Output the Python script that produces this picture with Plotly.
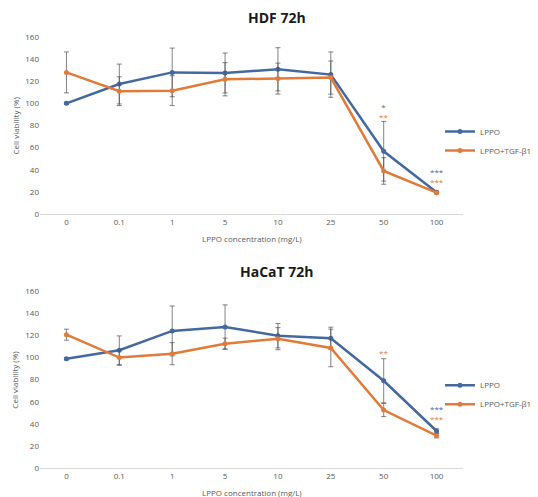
import plotly.graph_objects as go
from plotly.subplots import make_subplots

categories = ["0", "0.1", "1", "5", "10", "25", "50", "100"]

hdf_lppo = [100, 117.5, 128, 127.5, 130.8, 126, 56.7, 19.6]
hdf_lppo_err = [1, 18, 22, 18, 19.5, 20.5, 27, 1]
hdf_tgf = [128, 111, 111.5, 121.8, 122.4, 123.3, 38.9, 19.3]
hdf_tgf_err = [18.5, 13, 13.5, 15, 14, 15, 12, 1]

hacat_lppo = [99, 106.6, 124.1, 127.7, 119.8, 117.5, 79, 33.5]
hacat_lppo_err = [1, 13, 22.6, 20, 11, 10, 20, 2]
hacat_tgf = [120.7, 100, 103.5, 112.6, 117.1, 108.7, 52.5, 29.3]
hacat_tgf_err = [5, 7, 10, 5, 10, 17, 6, 2]

# significance marks: (panel, category, y, text, series)
sig_marks = [
    (1, "50", 95.6, "*", "LPPO"),
    (1, "50", 88.9, "**", "TGF"),
    (1, "100", 37, "***", "LPPO"),
    (1, "100", 30.5, "***", "TGF"),
    (2, "50", 105, "**", "TGF"),
    (2, "100", 52, "***", "LPPO"),
    (2, "100", 46, "***", "TGF"),
]

titles = ["HDF 72h", "HaCaT 72h"]
series_names = ["LPPO", "LPPO+TGF-β1"]
y_ticks = [0, 20, 40, 60, 80, 100, 120, 140, 160]

BLUE = "#44699F"
ORANGE = "#E07B39"
GREY = "#595959"
FONT = "Open Sans"

# page body has an 8px margin; work in screen pixels and convert
OFF = 8
W, H = 538 - OFF, 497 - OFF

def px(x):
    return (x - OFF) / W

def py(y):
    return 1 - (y - OFF) / H

fig = make_subplots(rows=2, cols=1)

panels = [
    (hdf_lppo, hdf_lppo_err, hdf_tgf, hdf_tgf_err, "legend"),
    (hacat_lppo, hacat_lppo_err, hacat_tgf, hacat_tgf_err, "legend2"),
]

for i, (l, le, t, te, lg) in enumerate(panels):
    row = i + 1
    for vals, errs, color, name in [(l, le, BLUE, series_names[0]), (t, te, ORANGE, series_names[1])]:
        fig.add_trace(go.Scatter(
            x=categories, y=vals, name=name, mode="lines+markers",
            line=dict(color=color, width=2.5),
            marker=dict(color=color, size=5),
            error_y=dict(type="data", array=errs, visible=True, color="#4d4d4d",
                         thickness=0.7, width=2.5),
            legend=lg,
        ), row=row, col=1)

# domains in screen pixels
x0, x1 = 40, 463
top_dom = (37, 214)
bot_dom = (291.3, 468)

def ydom(d):
    return [py(d[1]), py(d[0])]

axis_common = dict(showgrid=False, zeroline=False, automargin=False)
fig.update_xaxes(type="category", range=[-0.5, 7.5], domain=[px(x0), px(x1)],
                 showline=True, linecolor="#d9d9d9", linewidth=1, ticks="",
                 tickfont=dict(family=FONT, size=8, color=GREY), **axis_common)
fig.update_yaxes(range=[0, 160], tickvals=y_ticks, showline=False, ticks="",
                 tickfont=dict(family=FONT, size=8, color=GREY), **axis_common)
fig.update_layout(yaxis=dict(domain=ydom(top_dom)), yaxis2=dict(domain=ydom(bot_dom)))

annotations = []
for i, (dom, title) in enumerate([(top_dom, titles[0]), (bot_dom, titles[1])]):
    annotations.append(dict(text="<b>" + title + "</b>", x=px(277), y=py(dom[0] - 20),
                            xref="paper", yref="paper", showarrow=False,
                            font=dict(family=FONT, size=14, color="#1a1a1a"),
                            xanchor="center", yanchor="middle"))
    annotations.append(dict(text="Cell viability (%)", x=px(15), y=py((dom[0] + dom[1]) / 2),
                            xref="paper", yref="paper", showarrow=False, textangle=-90,
                            font=dict(family=FONT, size=8, color=GREY),
                            xanchor="center", yanchor="middle"))
    annotations.append(dict(text="LPPO concentration (mg/L)", x=px((x0 + x1) / 2),
                            y=py(dom[1] + 24),
                            xref="paper", yref="paper", showarrow=False,
                            font=dict(family=FONT, size=8, color=GREY),
                            xanchor="center", yanchor="middle"))

# group stacked significance marks into one annotation per (panel, category)
groups = {}
for panel, cat, yv, txt, ser in sig_marks:
    groups.setdefault((panel, cat), []).append((yv, txt, ser))
for (panel, cat), items in groups.items():
    items.sort(key=lambda it: -it[0])
    lines = ["<span style='color:%s'>%s</span>" % (BLUE if s == "LPPO" else ORANGE, t)
             for _, t, s in items]
    ymid = sum(it[0] for it in items) / len(items)
    annotations.append(dict(text="<br>".join(lines), x=categories.index(cat), y=ymid,
                            xref="x" if panel == 1 else "x2",
                            yref="y" if panel == 1 else "y2",
                            showarrow=False,
                            font=dict(family=FONT, size=8, color=GREY),
                            xanchor="center", yanchor="middle"))

legend_style = dict(xref="paper", yref="paper", x=px(440), xanchor="left", yanchor="middle",
                    font=dict(family=FONT, size=8, color=GREY), bgcolor="rgba(0,0,0,0)",
                    tracegroupgap=0)

fig.update_layout(
    width=W, height=H,
    margin=dict(l=0, r=0, t=0, b=0, autoexpand=False),
    paper_bgcolor="white", plot_bgcolor="white",
    annotations=annotations,
    legend=dict(y=py(141), **legend_style),
    legend2=dict(y=py(394.7), **legend_style),
    showlegend=True,
)

fig.write_html("out.html")
